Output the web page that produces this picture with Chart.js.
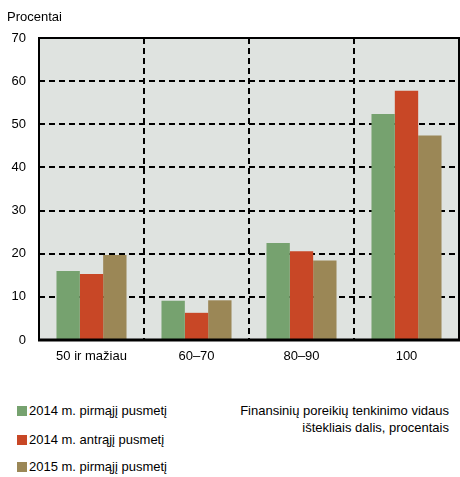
<!DOCTYPE html>
<html>
<head>
<meta charset="utf-8">
<script src="https://cdn.jsdelivr.net/npm/chart.js@4.4.0/dist/chart.umd.min.js"></script>
<style>
  body { margin: 0; background: #fff; font-family: "Liberation Sans", Arial, sans-serif; }
  #wrap { position: relative; width: 460px; height: 477px; }
  #box { position: absolute; left: 0; top: 0; width: 460px; height: 375px; }
  .ylab { position: absolute; left: 7px; top: 9px; font-size: 13px; color: #000; }
  .leg { position: absolute; left: 17px; font-size: 13px; color: #000; line-height: 15px; }
  .leg span.sw { display: inline-block; width: 10px; height: 10px; margin-right: 2px; vertical-align: -1px; }
  .note { position: absolute; right: 11px; top: 402px; font-size: 13px; text-align: right; line-height: 17px; }
</style>
</head>
<body>
<div id="wrap">
  <div id="box"><canvas id="myChart"></canvas></div>
  <div class="ylab">Procentai</div>
  <div class="leg" style="top:403px"><span class="sw" style="background:#76a26f"></span>2014 m. pirmąjį pusmetį</div>
  <div class="leg" style="top:432px"><span class="sw" style="background:#c84726"></span>2014 m. antrąjį pusmetį</div>
  <div class="leg" style="top:459px"><span class="sw" style="background:#9b8756"></span>2015 m. pirmąjį pusmetį</div>
  <div class="note">Finansinių poreikių tenkinimo vidaus<br>ištekliais dalis, procentais</div>
</div>
<script>
const categorias = ['50 ir mažiau', '60–70', '80–90', '100'];
const pirmas2014 = [16.0, 9.1, 22.5, 52.4];
const antras2014 = [15.3, 6.3, 20.6, 57.8];
const pirmas2015 = [19.7, 9.2, 18.4, 47.4];
const yTicks = [0, 10, 20, 30, 40, 50, 60, 70];

// fondo gris y marco negro del area del grafico
const fondo = {
  id: 'fondo',
  beforeDraw(chart) {
    const { ctx, chartArea: a } = chart;
    ctx.save();
    ctx.fillStyle = '#dfe3e0';
    ctx.fillRect(a.left, a.top, a.right - a.left, a.bottom - a.top);
    ctx.restore();
  },
  afterDraw(chart) {
    const { ctx, chartArea: a } = chart;
    ctx.save();
    ctx.strokeStyle = '#000';
    ctx.lineWidth = 2;
    ctx.beginPath();
    ctx.moveTo(a.left, a.bottom);
    ctx.lineTo(a.left, a.top);
    ctx.lineTo(a.right, a.top);
    ctx.lineTo(a.right, a.bottom);
    ctx.stroke();
    ctx.lineWidth = 3;
    ctx.beginPath();
    ctx.moveTo(a.left - 1, a.bottom);
    ctx.lineTo(a.right + 1, a.bottom);
    ctx.stroke();
    ctx.restore();
  }
};

new Chart(document.getElementById('myChart'), {
  type: 'bar',
  data: {
    labels: categorias,
    datasets: [
      { label: '2014 m. pirmąjį pusmetį', data: pirmas2014, backgroundColor: '#76a26f' },
      { label: '2014 m. antrąjį pusmetį', data: antras2014, backgroundColor: '#c84726' },
      { label: '2015 m. pirmąjį pusmetį', data: pirmas2015, backgroundColor: '#9b8756' }
    ]
  },
  plugins: [fondo],
  options: {
    responsive: true,
    maintainAspectRatio: false,
    animation: false,
    layout: { padding: { top: 38, right: 1, left: 0, bottom: 0 } },
    datasets: { bar: { categoryPercentage: 0.667, barPercentage: 1 } },
    plugins: { legend: { display: false }, tooltip: { enabled: false } },
    scales: {
      x: {
        grid: { offset: true, color: '#000', lineWidth: 2, drawTicks: false },
        border: { display: false, dash: [6, 4] },
        ticks: { color: '#000', font: { family: 'Liberation Sans', size: 13 }, padding: 9 },
        afterFit(scale) { scale.height = 35; }
      },
      y: {
        min: 0,
        max: 70,
        afterBuildTicks(scale) { scale.ticks = yTicks.map(v => ({ value: v })); },
        grid: {
          color: (c) => (c.tick && (c.tick.value === 0 || c.tick.value === 70)) ? 'rgba(0,0,0,0)' : '#000',
          lineWidth: 2,
          drawTicks: false
        },
        border: { display: false, dash: [6, 4] },
        ticks: { color: '#000', font: { family: 'Liberation Sans', size: 13 }, padding: 13 },
        afterFit(scale) { scale.width = 39; }
      }
    }
  }
});
</script>
</body>
</html>
